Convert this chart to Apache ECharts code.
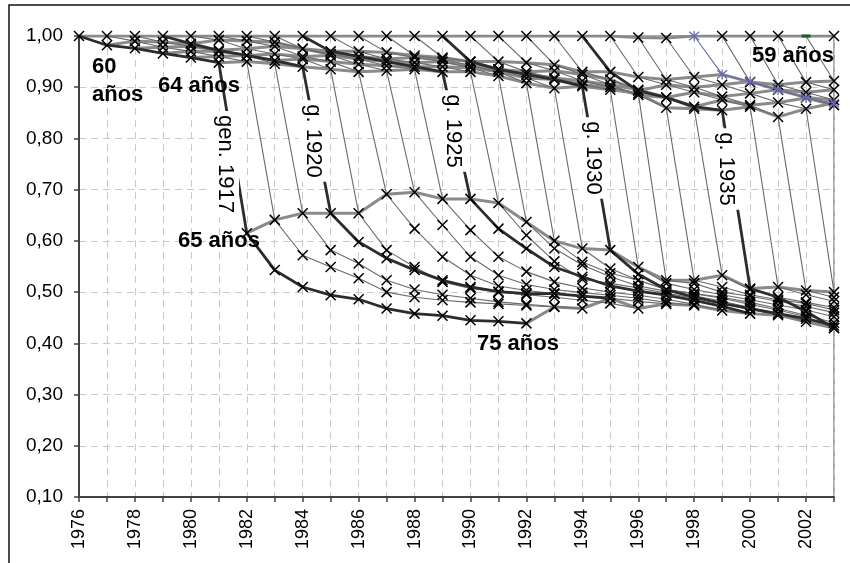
<!DOCTYPE html>
<html>
<head>
<meta charset="utf-8">
<script src="https://cdn.jsdelivr.net/npm/echarts@6/dist/echarts.min.js"></script>
<style>
html,body{margin:0;padding:0;background:#fff;}
#chart{width:850px;height:563px;}
</style>
</head>
<body>
<div id="chart"></div>
<script>
// ---- DATA (ratio relative to age 59, by generation; index 0 = age 59 ... up to age 75) ----
const AGE0 = 59;
const xMin = 1976, xMax = 2003;
const yMin = 0.10, yMax = 1.00;

const g1917 = [1.000, 0.982, 0.976, 0.966, 0.958, 0.948, 0.615, 0.543, 0.510, 0.494, 0.486, 0.468, 0.458, 0.454, 0.445, 0.443, 0.439];
const g1918 = [1.000, 0.990, 0.978, 0.970, 0.960, 0.950, 0.641, 0.572, 0.549, 0.527, 0.500, 0.490, 0.484, 0.480, 0.477, 0.474, 0.471];
const g1919 = [1.000, 0.988, 0.980, 0.970, 0.962, 0.946, 0.654, 0.582, 0.556, 0.523, 0.505, 0.495, 0.488, 0.481, 0.476, 0.472, 0.468];
const g1920 = [1.000, 0.985, 0.972, 0.962, 0.952, 0.940, 0.654, 0.598, 0.566, 0.543, 0.523, 0.510, 0.501, 0.497, 0.497, 0.492, 0.488];
const g1921 = [1.000, 0.992, 0.975, 0.965, 0.955, 0.935, 0.654, 0.582, 0.549, 0.520, 0.507, 0.500, 0.495, 0.490, 0.484, 0.478, 0.468];
const g1922 = [1.000, 0.990, 0.980, 0.960, 0.950, 0.930, 0.691, 0.624, 0.569, 0.533, 0.512, 0.503, 0.497, 0.493, 0.488, 0.482, 0.477];
const g1923 = [1.000, 0.988, 0.975, 0.962, 0.945, 0.932, 0.695, 0.631, 0.569, 0.533, 0.515, 0.505, 0.499, 0.494, 0.488, 0.480, 0.474];
const g1924 = [1.000, 0.975, 0.965, 0.955, 0.942, 0.935, 0.682, 0.621, 0.569, 0.540, 0.520, 0.508, 0.500, 0.494, 0.486, 0.476, 0.464];
const g1925 = [1.000, 0.970, 0.960, 0.950, 0.940, 0.930, 0.682, 0.624, 0.585, 0.549, 0.530, 0.512, 0.502, 0.494, 0.484, 0.472, 0.458];
const g1926 = [1.000, 0.970, 0.955, 0.948, 0.940, 0.930, 0.674, 0.611, 0.560, 0.525, 0.517, 0.508, 0.498, 0.488, 0.478, 0.466, 0.455];
const g1927 = [1.000, 0.968, 0.958, 0.950, 0.938, 0.922, 0.637, 0.585, 0.553, 0.530, 0.512, 0.502, 0.493, 0.482, 0.470, 0.458, 0.442];
const g1928 = [1.000, 0.962, 0.955, 0.942, 0.930, 0.908, 0.600, 0.559, 0.537, 0.523, 0.505, 0.497, 0.488, 0.476, 0.465, 0.452, 0.430];
const g1929 = [1.000, 0.958, 0.950, 0.935, 0.918, 0.898, 0.585, 0.546, 0.523, 0.505, 0.497, 0.490, 0.480, 0.468, 0.455, 0.440];
const g1930 = [1.000, 0.950, 0.935, 0.925, 0.915, 0.902, 0.582, 0.535, 0.505, 0.490, 0.478, 0.468, 0.458, 0.448, 0.435];
const g1931 = [1.000, 0.950, 0.930, 0.918, 0.905, 0.895, 0.549, 0.517, 0.505, 0.495, 0.485, 0.475, 0.465, 0.452];
const g1932 = [1.000, 0.948, 0.932, 0.912, 0.900, 0.888, 0.523, 0.517, 0.500, 0.492, 0.482, 0.472, 0.460];
const g1933 = [1.000, 0.944, 0.925, 0.905, 0.885, 0.860, 0.523, 0.510, 0.495, 0.485, 0.478, 0.465];
const g1934 = [1.000, 0.930, 0.915, 0.895, 0.880, 0.858, 0.533, 0.505, 0.490, 0.480, 0.470];
const g1935 = [1.000, 0.930, 0.893, 0.880, 0.862, 0.855, 0.507, 0.490, 0.462, 0.430];
const g1936 = [1.000, 0.920, 0.905, 0.890, 0.875, 0.862, 0.510, 0.495, 0.482];
const g1937 = [0.997, 0.915, 0.900, 0.882, 0.865, 0.842, 0.503, 0.490];
const g1938 = [0.996, 0.920, 0.905, 0.888, 0.870, 0.858, 0.500];
const g1939 = [1.000, 0.925, 0.911, 0.895, 0.879, 0.869];
const g1940 = [1.000, 0.910, 0.895, 0.880, 0.865];
const g1941 = [1.000, 0.905, 0.890, 0.875];
const g1942 = [1.000, 0.910, 0.895];
const g1943 = [1.000, 0.912];
const g1944 = [1.000];

const genYears = [1917,1918,1919,1920,1921,1922,1923,1924,1925,1926,1927,1928,1929,1930,
                  1931,1932,1933,1934,1935,1936,1937,1938,1939,1940,1941,1942,1943,1944];
const cohorts = [g1917,g1918,g1919,g1920,g1921,g1922,g1923,g1924,g1925,g1926,g1927,g1928,g1929,g1930,
                 g1931,g1932,g1933,g1934,g1935,g1936,g1937,g1938,g1939,g1940,g1941,g1942,g1943,g1944];
const darkGens = [1917,1920,1925,1930,1935];
const blueGen = 1939;
const greenGen = 1943;
const ageLines = [59,60,61,62,63,64,65,75];

// ---- STYLES ----
const FONT = '"Liberation Sans", Arial, sans-serif';
const X_SYM = 'path://M0,0L10,10M10,0L0,10';
const STAR_SYM = 'path://M0,0L10,10M10,0L0,10M5,-1L5,11';

const series = [];

// Age lines (same age across years)
ageLines.forEach(a => {
  const data = [];
  cohorts.forEach((arr, k) => {
    const i = a - AGE0;
    if (i < arr.length) data.push([genYears[k] + a, arr[i]]);
  });
  series.push({
    type: 'line', name: a + ' años', data: data,
    symbol: 'none', silent: true, z: 2,
    lineStyle: { color: '#8a8a8a', width: 3 }
  });
});

// Generation lines
function genSeries(k, opts) {
  const gen = genYears[k];
  const data = cohorts[k].map((v, i) => [gen + AGE0 + i, v]);
  return Object.assign({
    type: 'line', name: 'gen. ' + gen, data: data,
    symbol: X_SYM, symbolSize: 10, silent: true, z: 3,
    itemStyle: { color: '#000', borderColor: '#000', borderWidth: 1.5 },
    lineStyle: { color: '#6a6a6a', width: 1.1 }
  }, opts || {});
}

cohorts.forEach((arr, k) => {
  const gen = genYears[k];
  if (darkGens.includes(gen) || gen === blueGen) return;
  if (gen === greenGen) {
    const s = genSeries(k);
    s.data = s.data.map((p, i) => i === 0
      ? { value: p, symbol: 'rect', symbolSize: [9, 3], itemStyle: { color: '#1f5a1f', borderColor: '#1f5a1f', borderWidth: 0 } }
      : p);
    series.push(s);
    return;
  }
  series.push(genSeries(k));
});

// Blue generation
series.push(genSeries(genYears.indexOf(blueGen), {
  symbol: STAR_SYM, z: 4,
  itemStyle: { color: '#6a6ab0', borderColor: '#6a6ab0', borderWidth: 1.3 },
  lineStyle: { color: '#6a6ab0', width: 1.1 }
}));

// Highlighted generations
darkGens.forEach(gen => {
  series.push(genSeries(genYears.indexOf(gen), {
    z: 5,
    lineStyle: { color: '#2c2c2c', width: 2.8 }
  }));
});

const chart = echarts.init(document.getElementById('chart'), null, { renderer: 'canvas' });

const boldLbl = (txt, x, y) => ({
  type: 'text', x: x, y: y, z: 100, silent: true,
  style: { text: txt, font: 'bold 22px ' + FONT, fill: '#000',
           align: 'left', verticalAlign: 'middle', textAlign: 'left', textVerticalAlign: 'middle' }
});
const vertLbl = (txt, x, y) => ({
  type: 'text', x: x, y: y, rotation: -Math.PI / 2, z: 100, silent: true,
  style: { text: txt, font: '22px ' + FONT, fill: '#000',
           align: 'center', verticalAlign: 'middle', textAlign: 'center', textVerticalAlign: 'middle',
           backgroundColor: '#fff', padding: [3, 4] }
});

chart.setOption({
  animation: false,
  backgroundColor: '#fff',
  grid: { left: 79, right: 16, top: 36, bottom: 66, show: true,
          borderColor: '#8a8a8a', borderWidth: 1.5, backgroundColor: 'transparent' },
  xAxis: {
    type: 'value', min: xMin, max: xMax, interval: 1,
    axisLine: { lineStyle: { color: '#404040', width: 2 } },
    axisTick: { length: 5, lineStyle: { color: '#404040', width: 1.5 } },
    axisLabel: { rotate: 90, margin: 12, color: '#000', fontSize: 18, fontFamily: FONT,
                 formatter: v => (v % 2 === 0 ? String(v) : '') },
    splitLine: { show: true, lineStyle: { color: '#c8c8c8', type: [7, 5], width: 1 } }
  },
  yAxis: {
    type: 'value', min: yMin, max: yMax, interval: 0.1,
    axisLine: { show: true, lineStyle: { color: '#404040', width: 2 } },
    axisTick: { show: true, length: 5, lineStyle: { color: '#404040', width: 1.5 } },
    axisLabel: { margin: 16, color: '#000', fontSize: 19, fontFamily: FONT,
                 formatter: v => v.toFixed(2).replace('.', ',') },
    splitLine: { show: true, lineStyle: { color: '#c8c8c8', type: [7, 5], width: 1 } }
  },
  series: series,
  graphic: [
    { type: 'rect', silent: true, z: 0, shape: { x: 9, y: 5, width: 900, height: 700 },
      style: { fill: 'none', stroke: '#111', lineWidth: 1.5 } },
    boldLbl('60', 92, 67),
    boldLbl('años', 92, 95),
    boldLbl('64 años', 158, 86),
    boldLbl('65 años', 178, 241),
    boldLbl('75 años', 477, 344),
    boldLbl('59 años', 752, 56),
    vertLbl('gen. 1917', 225, 164),
    vertLbl('g. 1920', 313, 141),
    vertLbl('g. 1925', 453, 131),
    vertLbl('g. 1930', 593, 158),
    vertLbl('g. 1935', 726, 169)
  ]
});
</script>
</body>
</html>
